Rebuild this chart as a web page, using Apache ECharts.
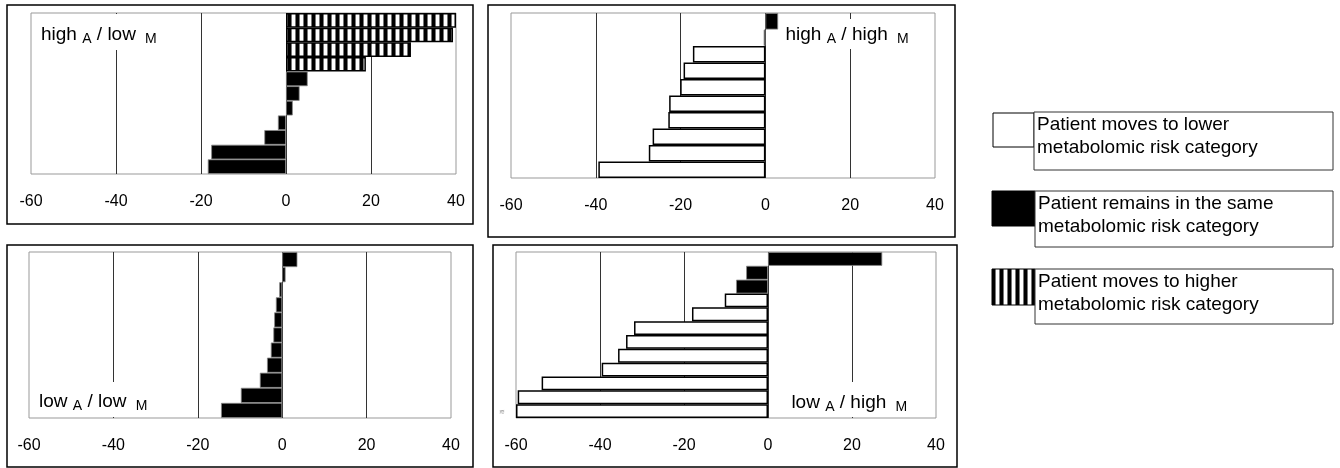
<!DOCTYPE html>
<html><head><meta charset="utf-8">
<script src="https://cdn.jsdelivr.net/npm/echarts@6/dist/echarts.min.js"></script>
<style>html,body{margin:0;padding:0;background:#fff}#c{width:1340px;height:468px}</style>
</head><body><div id="c"></div>
<script>
// ---- data ----
const xTicks = [-60, -40, -20, 0, 20, 40];
// type codes: L = moves to lower, S = remains same, H = moves to higher
const highLowValues = [40, 39.3, 29.4, 18.8, 5.1, 3.2, 1.6, -1.9, -5.1, -17.6, -18.4];
const highLowTypes  = ['H','H','H','H','S','S','S','S','S','S','S'];
const highHighValues = [3, -0.4, -17.1, -19.3, -20.1, -22.7, -22.9, -26.6, -27.5, -39.4];
const highHighTypes  = ['S','S','L','L','L','L','L','L','L','L'];
const lowLowValues = [3.6, 0.8, -0.7, -1.5, -1.9, -2.1, -2.7, -3.6, -5.3, -9.8, -14.5];
const lowLowTypes  = ['S','S','S','S','S','S','S','S','S','S','S'];
const lowHighValues = [27.2, -5.2, -7.6, -10.3, -18.1, -31.9, -33.8, -35.7, -39.6, -53.9, -59.6, -60];
const lowHighTypes  = ['S','S','S','L','L','L','L','L','L','L','L','L'];
const panelTitles = [
  ['high', 'A', 'low', 'M'],
  ['high', 'A', 'high', 'M'],
  ['low', 'A', 'low', 'M'],
  ['low', 'A', 'high', 'M']
];
const legendLabels = [
  'Patient moves to lower\nmetabolomic risk category',
  'Patient remains in the same\nmetabolomic risk category',
  'Patient moves to higher\nmetabolomic risk category'
];
const legendTypes = ['L', 'S', 'H'];

// ---- styles ----
const FONT = '"Liberation Sans", Arial, Helvetica, sans-serif';
const pc = document.createElement('canvas');
pc.width = 8; pc.height = 4;
const pctx = pc.getContext('2d');
pctx.fillStyle = '#fff'; pctx.fillRect(0, 0, 8, 4);
pctx.fillStyle = '#000'; pctx.fillRect(0, 0, 3, 4);
pctx.fillStyle = '#777'; pctx.fillRect(3, 0, 1, 4); pctx.fillRect(7, 0, 1, 4);
const stripe = { image: pc, repeat: 'repeat' };

const typeStyle = {
  L: { color: '#fff', borderColor: '#000', borderWidth: 1.5 },
  S: { color: '#000', borderColor: '#888', borderWidth: 0.8 },
  H: { color: stripe, borderColor: '#000', borderWidth: 1.5 }
};

const panels = [
  { values: highLowValues, types: highLowTypes, grid: { left: 31, top: 13, width: 425, height: 161 },
    box: [7, 5, 466, 219], title: [41, 24], bg: [35, 14, 143, 36] },
  { values: highHighValues, types: highHighTypes, grid: { left: 511, top: 13, width: 424, height: 165 },
    box: [488, 5, 467, 232], title: [785.5, 24], bg: [782, 19, 152, 30] },
  { values: lowLowValues, types: lowLowTypes, grid: { left: 29, top: 252, width: 422, height: 166 },
    box: [7, 245, 466, 222], title: [39, 390.7], bg: [34, 382, 140, 35] },
  { values: lowHighValues, types: lowHighTypes, grid: { left: 516, top: 252, width: 420, height: 166 },
    box: [493, 245, 464, 222], title: [791.4, 391.7], bg: [788, 382, 147, 35] }
];

const option = {
  animation: false,
  backgroundColor: '#fff',
  textStyle: { fontFamily: FONT },
  grid: [], xAxis: [], yAxis: [], series: [], graphic: []
};

panels.forEach((p, i) => {
  option.grid.push(Object.assign({ show: true, borderColor: '#999', borderWidth: 1, backgroundColor: 'transparent' }, p.grid));
  option.xAxis.push({
    type: 'value', gridIndex: i,
    min: xTicks[0], max: xTicks[xTicks.length - 1], interval: xTicks[1] - xTicks[0],
    axisLine: { show: false }, axisTick: { show: false },
    axisLabel: { fontSize: 16, color: '#000', margin: 20, fontFamily: FONT },
    splitLine: { show: true, showMinLine: false, showMaxLine: false, lineStyle: { color: '#333', width: 1 } }
  });
  option.yAxis.push({
    type: 'category', gridIndex: i, inverse: true,
    data: p.values.map((v, k) => String(k + 1)),
    show: false
  });
  option.series.push({
    type: 'bar', xAxisIndex: i, yAxisIndex: i,
    barCategoryGap: '0%', z: 2,
    data: p.values.map((v, k) => ({ value: v, itemStyle: typeStyle[p.types[k]] }))
  });
  const [bx, by, bw, bh] = p.box;
  option.graphic.push({ type: 'rect', z: 10, shape: { x: bx, y: by, width: bw, height: bh },
    style: { fill: null, stroke: '#000', lineWidth: 1.5 } });
  const [gx, gy, gw, gh] = p.bg;
  option.graphic.push({ type: 'rect', z: 1, shape: { x: gx, y: gy, width: gw, height: gh },
    style: { fill: '#fff', stroke: null } });
  const t = panelTitles[i];
  option.graphic.push({ type: 'text', z: 11, x: p.title[0], y: p.title[1],
    style: {
      text: '{m|' + t[0] + '} {s|' + t[1] + '} {m|/ ' + t[2] + '} {s| ' + t[3] + '}',
      fontSize: 19, fontFamily: FONT, fill: '#000', verticalAlign: 'top', align: 'left',
      rich: {
        m: { fontSize: 19, lineHeight: 22, fontFamily: FONT },
        s: { fontSize: 14, lineHeight: 10, verticalAlign: 'bottom', fontFamily: FONT }
      }
    } });
});

// small break mark on lower-right panel
option.graphic.push({ type: 'text', z: 11, x: 502, y: 412, style: { text: '\u224B', fontSize: 7, fill: '#999', align: 'center', verticalAlign: 'middle' } });

// legend
const legendBoxes = [[1034, 112, 299, 58], [1035, 191, 298, 56], [1035, 269, 298, 55]];
const legendSwatches = [[993, 113, 41, 34], [992, 191, 43, 35], [992, 269, 43, 36]];
legendLabels.forEach((lab, i) => {
  const st = typeStyle[legendTypes[i]];
  const [sx, sy, sw, sh] = legendSwatches[i];
  option.graphic.push({ type: 'rect', z: 10, shape: { x: sx, y: sy, width: sw, height: sh },
    style: { fill: st.color, stroke: '#000', lineWidth: 1 } });
  const [lx, ly, lw, lh] = legendBoxes[i];
  option.graphic.push({ type: 'rect', z: 11, shape: { x: lx, y: ly, width: lw, height: lh },
    style: { fill: '#fff', stroke: '#333', lineWidth: 1 } });
  option.graphic.push({ type: 'text', z: 12, x: lx + 3, y: ly + 1.5,
    style: { text: lab, fontSize: 19, lineHeight: 23, fontFamily: FONT, fill: '#000', verticalAlign: 'top', align: 'left' } });
});

const chart = echarts.init(document.getElementById('c'), null, { renderer: 'canvas' });
chart.setOption(option);
</script>
</body></html>
